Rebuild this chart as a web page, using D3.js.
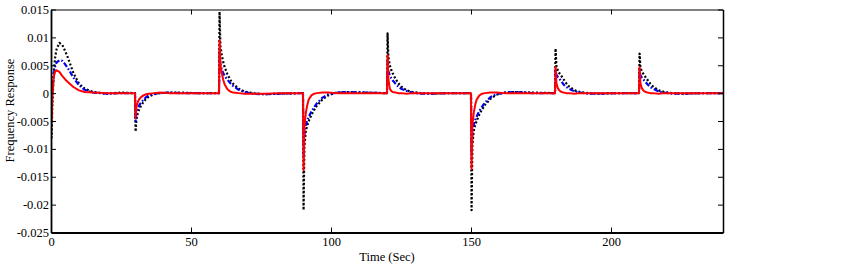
<!DOCTYPE html>
<html>
<head>
<meta charset="utf-8">
<script src="https://cdn.jsdelivr.net/npm/d3@7"></script>
<style>
  html, body { margin: 0; padding: 0; background: #fff; }
  svg { display: block; }
  text { font-family: "Liberation Serif", "Tinos", "DejaVu Serif", serif; fill: #000; }
</style>
</head>
<body>
<svg id="chart" width="853" height="266"></svg>
<script>
// ---- data ----
const time = [
  0, 0.2, 0.5, 1, 1.5, 2, 3, 4, 5, 6, 8, 10, 12, 15, 20, 25, 29.8,
  30, 30.2, 30.5, 31, 31.5, 32, 33, 34, 35, 37, 39, 42, 46, 52, 59.8,
  60, 60.2, 60.5, 61, 61.5, 62, 63, 64, 65, 67, 69, 72, 76, 82, 89.8,
  90, 90.2, 90.5, 91, 91.5, 92, 93, 94, 95, 97, 99, 102, 106, 112, 119.8,
  120, 120.2, 120.5, 121, 121.5, 122, 123, 124, 125, 127, 129, 132, 136, 142, 149.8,
  150, 150.2, 150.5, 151, 151.5, 152, 153, 154, 155, 157, 159, 162, 166, 172, 179.8,
  180, 180.2, 180.5, 181, 181.5, 182, 183, 184, 185, 187, 189, 192, 196, 202, 209.8,
  210, 210.2, 210.5, 211, 211.5, 212, 213, 214, 215, 217, 219, 222, 226, 232, 239.8,
  240
];

// black dotted series
const responseDotted = [
  0, -0.008, -0.002, 0.004, 0.0065, 0.0079, 0.009, 0.0087, 0.0076, 0.0064, 0.0036, 0.0017, 0.0008, 0.0002, -0.0001, 0.0001, 0,
  0, -0.0069, -0.0048, -0.0036, -0.0029, -0.0024, -0.0016, -0.001, -0.0006, -0.0002, 0, 0.0001, 0.0001, 0, 0,
  0, 0.0146, 0.0085, 0.0068, 0.0056, 0.0047, 0.0034, 0.0024, 0.0017, 0.0008, 0.0003, 0, -0.0002, -0.0001, 0,
  0, -0.021, -0.0095, -0.0068, -0.0058, -0.0051, -0.0039, -0.003, -0.0022, -0.0011, -0.0004, 0.0001, 0.0002, 0.0001, 0,
  0, 0.0107, 0.0065, 0.005, 0.0042, 0.0036, 0.0026, 0.0018, 0.0012, 0.0005, 0.0002, 0, -0.0001, 0, 0,
  0, -0.021, -0.0093, -0.0067, -0.0057, -0.005, -0.0038, -0.0029, -0.0021, -0.001, -0.0003, 0.0001, 0.0002, 0.0001, 0,
  0, 0.008, 0.0049, 0.0041, 0.0036, 0.0033, 0.0025, 0.0018, 0.0012, 0.0005, 0.0002, 0, -0.0001, 0, 0,
  0, 0.0071, 0.0046, 0.0039, 0.0035, 0.0031, 0.0024, 0.0017, 0.0012, 0.0005, 0.0002, 0, -0.0001, 0, 0,
  0
];

// blue dash-dot series
const responseDashDot = [
  0, -0.004, 0.001, 0.0035, 0.0048, 0.0055, 0.0059, 0.0058, 0.0052, 0.0045, 0.0028, 0.0014, 0.0006, 0.0001, -0.0001, 0, 0,
  0, -0.005, -0.0036, -0.0028, -0.0022, -0.0018, -0.0012, -0.0007, -0.0004, -0.0001, 0, 0.0001, 0, 0, 0,
  0, 0.0075, 0.0052, 0.0042, 0.0036, 0.0031, 0.0024, 0.0018, 0.0013, 0.0006, 0.0002, -0.0001, -0.0002, -0.0001, 0,
  0, -0.011, -0.0075, -0.0057, -0.0049, -0.0043, -0.0033, -0.0025, -0.0018, -0.0008, -0.0002, 0.0001, 0.0002, 0.0001, 0,
  0, 0.0055, 0.0039, 0.0032, 0.0027, 0.0023, 0.0017, 0.0012, 0.0008, 0.0004, 0.0001, -0.0001, -0.0001, 0, 0,
  0, -0.0108, -0.0074, -0.0056, -0.0048, -0.0042, -0.0032, -0.0024, -0.0017, -0.0007, -0.0002, 0.0001, 0.0002, 0, 0,
  0, 0.0042, 0.0033, 0.0029, 0.0026, 0.0023, 0.0016, 0.0011, 0.0008, 0.0003, 0.0001, -0.0001, -0.0001, 0, 0,
  0, 0.004, 0.0032, 0.0028, 0.0025, 0.0022, 0.0016, 0.0011, 0.0008, 0.0003, 0.0001, -0.0001, -0.0001, 0, 0,
  0
];

// red solid series
const responseSolid = [
  0, -0.0055, -0.0005, 0.003, 0.0039, 0.0041, 0.0038, 0.0031, 0.0025, 0.002, 0.0011, 0.0005, 0.0002, 0.0001, 0, 0, 0,
  0, -0.0045, -0.0025, -0.0016, -0.0011, -0.0008, -0.0004, -0.0002, -0.0001, 0, 0.0001, 0, 0, 0, 0,
  0, 0.0095, 0.005, 0.0036, 0.0024, 0.0016, 0.0007, 0.0003, 0.0001, 0, -0.0001, -0.0001, -0.0001, 0, 0,
  0, -0.0138, -0.006, -0.0036, -0.0022, -0.0012, -0.0004, -0.0001, 0, 0.0001, 0.0001, 0, 0, 0, 0,
  0, 0.0068, 0.0025, 0.0008, 0.0004, 0.0002, 0.0001, 0, 0, -0.0001, 0, 0, 0, 0, 0,
  0, -0.0136, -0.0058, -0.0035, -0.0021, -0.0012, -0.0004, -0.0001, 0, 0.0001, 0.0001, 0, 0, 0, 0,
  0, 0.0047, 0.0018, 0.0009, 0.0005, 0.0003, 0.0001, 0, 0, -0.0001, 0, 0, 0, 0, 0,
  0, 0.0047, 0.0018, 0.0009, 0.0005, 0.0003, 0.0001, 0, 0, -0.0001, 0, 0, 0, 0, 0,
  0
];

const xTicks = [0, 50, 100, 150, 200];
const yTicks = [0.015, 0.01, 0.005, 0, -0.005, -0.01, -0.015, -0.02, -0.025];
const yTickLabels = ["0.015", "0.01", "0.005", "0", "-0.005", "-0.01", "-0.015", "-0.02", "-0.025"];
const xTitle = "Time (Sec)";
const yTitle = "Frequency Response";

// ---- layout ----
const margin = { left: 51, top: 9.5, right: 130, bottom: 33.5 };
const W = 853, H = 266;
const iw = W - margin.left - margin.right;
const ih = H - margin.top - margin.bottom;

const svg = d3.select("#chart");
const g = svg.append("g").attr("transform", `translate(${margin.left},${margin.top})`);

const x = d3.scaleLinear().domain([0, 240]).range([0, iw]);
const y = d3.scaleLinear().domain([-0.025, 0.015]).range([ih, 0]);

g.append("defs").append("clipPath").attr("id", "clip")
  .append("rect").attr("x", 0).attr("y", 0).attr("width", iw).attr("height", ih);

const line = d3.line().x(d => x(d[0])).y(d => y(d[1]));

const series = [
  { vals: responseDotted, color: "#000000", dash: "2,2", width: 2.2 },
  { vals: responseDashDot, color: "#0000ee", dash: "5,2,1.6,2", width: 2.2 },
  { vals: responseSolid, color: "#ff0000", dash: null, width: 2 }
];

const plot = g.append("g").attr("clip-path", "url(#clip)");
series.forEach(s => {
  plot.append("path")
    .datum(time.map((t, i) => [t, s.vals[i]]))
    .attr("fill", "none")
    .attr("stroke", s.color)
    .attr("stroke-width", s.width)
    .attr("stroke-dasharray", s.dash)
    .attr("stroke-linejoin", "round")
    .attr("d", line);
});

// axes (MATLAB-like box with inward ticks)
const fs = "12.5px";
const ff = '"Liberation Serif", "Tinos", "DejaVu Serif", serif';
const tickLen = 5;

const xAxisB = d3.axisBottom(x).tickValues(xTicks).tickSizeInner(-tickLen).tickSizeOuter(0).tickPadding(4.5).tickFormat(d3.format("d"));
const xAxisT = d3.axisTop(x).tickValues(xTicks).tickSizeInner(-tickLen).tickSizeOuter(0).tickFormat("");
const yAxisL = d3.axisLeft(y).tickValues(yTicks).tickSizeInner(-tickLen).tickSizeOuter(0).tickPadding(2)
  .tickFormat((d, i) => yTickLabels[i]);
const yAxisR = d3.axisRight(y).tickValues(yTicks).tickSizeInner(-tickLen).tickSizeOuter(0).tickFormat("");

function styleAxis(sel, w) {
  sel.attr("font-family", ff).attr("font-size", fs);
  sel.select(".domain").attr("stroke", "#000").attr("stroke-width", w);
  sel.selectAll(".tick line").attr("stroke", "#000").attr("stroke-width", 1);
  sel.selectAll(".tick text").style("font-size", fs).style("font-family", ff).attr("fill", "#000");
}

g.append("g").attr("transform", `translate(0,${ih})`).call(xAxisB).call(s => styleAxis(s, 1.8));
g.append("g").call(xAxisT).call(s => styleAxis(s, 1));
g.append("g").call(yAxisL).call(s => styleAxis(s, 1.8));
g.append("g").attr("transform", `translate(${iw},0)`).call(yAxisR).call(s => styleAxis(s, 1.5));

// titles
svg.append("text")
  .attr("x", margin.left + iw / 2).attr("y", 260.5)
  .attr("text-anchor", "middle").style("font-size", fs).style("font-family", ff).text(xTitle);

svg.append("text")
  .attr("transform", `translate(13.5,110.5) rotate(-90)`)
  .attr("text-anchor", "middle").style("font-size", fs).style("font-family", ff).text(yTitle);
</script>
</body>
</html>
